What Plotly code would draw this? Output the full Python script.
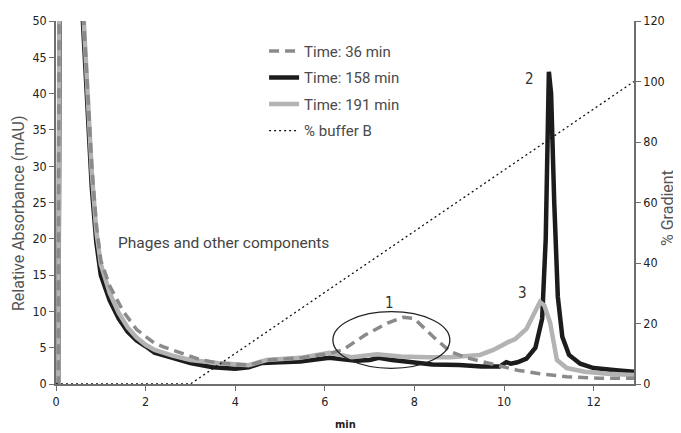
import plotly.graph_objects as go

# ---- data ----
t_black = [0, 0.05, 0.1, 0.55, 0.6, 0.7, 0.8, 0.9, 1.0, 1.2, 1.4, 1.6, 1.8, 2.0, 2.2, 2.6, 3.0, 3.5, 4.0, 4.3, 4.6, 5.0, 5.45, 6.1, 6.4, 6.7, 7.0, 7.2, 7.5, 8.0, 8.4, 9.0, 9.5, 9.9, 10.05, 10.15, 10.3, 10.5, 10.7, 10.85, 10.93, 11.0, 11.05, 11.12, 11.2, 11.3, 11.45, 11.7, 12.0, 12.5, 12.9]
y_black = [0, 0, 80, 80, 50, 39, 27, 19.5, 15, 11.5, 9.0, 7.2, 6.0, 5.2, 4.3, 3.6, 2.9, 2.3, 2.1, 2.3, 2.9, 3.0, 3.1, 3.6, 3.4, 3.2, 3.3, 3.6, 3.3, 3.0, 2.7, 2.6, 2.4, 2.4, 3.0, 2.8, 3.0, 3.5, 5.0, 9.0, 20, 43, 40, 25, 12, 6.5, 4.0, 2.8, 2.2, 1.9, 1.7]

t_gray = [0, 0.05, 0.09, 0.55, 0.62, 0.7, 0.8, 0.9, 1.0, 1.2, 1.4, 1.6, 1.8, 2.0, 2.2, 2.6, 3.0, 3.6, 4.3, 4.7, 5.45, 6.1, 6.6, 7.16, 7.7, 8.3, 8.8, 9.46, 9.76, 10.1, 10.25, 10.5, 10.65, 10.8, 10.9, 11.03, 11.18, 11.4, 11.8, 12.3, 12.9]
y_gray = [0, 0, 80, 80, 50, 40, 29, 21, 16.5, 12.5, 9.8, 7.8, 6.4, 5.4, 4.7, 3.9, 3.3, 2.9, 2.6, 3.3, 3.6, 4.3, 3.7, 4.1, 3.8, 3.7, 3.7, 4.0, 4.7, 5.8, 6.2, 7.6, 9.5, 11.3, 10.8, 8.4, 3.3, 2.2, 1.7, 1.4, 1.25]

t_dash = [0, 0.05, 0.08, 0.55, 0.62, 0.7, 0.8, 0.9, 1.0, 1.2, 1.5, 1.8, 2.2, 2.4, 2.8, 3.2, 3.6, 4.3, 4.7, 5.45, 6.1, 6.4, 6.9, 7.4, 7.75, 8.0, 8.42, 8.8, 9.17, 9.7, 10.3, 10.8, 11.4, 12.14, 12.9]
y_dash = [0, 0, 80, 80, 50, 41, 30, 22, 17, 13.5, 10, 7.5, 5.6, 5.1, 4.2, 3.4, 2.9, 2.6, 3.3, 3.6, 4.2, 4.7, 6.75, 8.4, 9.2, 9.0, 6.5, 4.45, 3.6, 2.8, 1.9, 1.4, 1.0, 0.8, 0.8]

t_buffer = [0, 3.0, 12.9]
y_buffer = [0, 0, 100]

x_ticks = [0, 2, 4, 6, 8, 10, 12]
y_ticks = [0, 5, 10, 15, 20, 25, 30, 35, 40, 45, 50]
y2_ticks = [0, 20, 40, 60, 80, 100, 120]

TXT = "Roboto, 'Open Sans', sans-serif"
TICK = "'DejaVu Sans Condensed', 'Liberation Sans Narrow', Roboto, sans-serif"

# page offset from the default body margin (8px)
OFF = 8
W, H = 681 - OFF, 433 - OFF
L, R, T, B = 56 - OFF, 47, 21 - OFF, 49

fig = go.Figure()
fig.add_trace(go.Scatter(x=t_black, y=y_black, mode="lines", name="Time: 158 min",
                         line=dict(color="#1c1c1c", width=4.5), legendrank=2))
fig.add_trace(go.Scatter(x=t_gray, y=y_gray, mode="lines", name="Time: 191 min",
                         line=dict(color="#b3b3b5", width=4.5), legendrank=3))
fig.add_trace(go.Scatter(x=t_dash, y=y_dash, mode="lines", name="Time: 36 min",
                         line=dict(color="#8a8a8a", width=3.5, dash="10px,6px"), legendrank=1))
fig.add_trace(go.Scatter(x=t_buffer, y=y_buffer, mode="lines", name="% buffer B", yaxis="y2",
                         line=dict(color="#111111", width=1.3, dash="2px,3px"), legendrank=4))
for tr in fig.data:
    tr.legendgroup = tr.name

axis_common = dict(showgrid=False, zeroline=False, showline=True, linecolor="#6e6e6e", linewidth=1.5,
                   ticks="outside", ticklen=5, tickcolor="#6e6e6e", tickwidth=1.2, automargin=False,
                   tickfont=dict(family=TICK, size=12.5, color="#222222"))

fig.update_layout(
    width=W, height=H,
    margin=dict(l=L, r=R, t=T, b=B),
    paper_bgcolor="white", plot_bgcolor="white",
    showlegend=True,
    legend=dict(x=0.36, y=0.962, xanchor="left", yanchor="top", bgcolor="rgba(0,0,0,0)",
                font=dict(family=TXT, size=15, color="#4a4a4a"), tracegroupgap=4,
                itemwidth=30),
    xaxis=dict(range=[0, 12.9], tickvals=x_ticks, **axis_common),
    yaxis=dict(range=[0, 50], tickvals=y_ticks, **axis_common),
    yaxis2=dict(range=[0, 120], tickvals=y2_ticks, overlaying="y", side="right", anchor="x", **axis_common),
)

fig.add_shape(type="circle", xref="x", yref="y", x0=6.18, x1=8.79, y0=2.16, y1=9.96,
              line=dict(color="#222222", width=1.3))

# axis titles (page pixel positions, converted below)
fig.add_annotation(x=18, y=213, xref="paper", yref="paper", text="Relative Absorbance (mAU)", showarrow=False,
                   textangle=-90, xanchor="center", yanchor="middle",
                   font=dict(family=TXT, size=16, color="#555555"))
fig.add_annotation(x=667, y=208, xref="paper", yref="paper", text="% Gradient", showarrow=False,
                   textangle=-90, xanchor="center", yanchor="middle",
                   font=dict(family=TXT, size=16, color="#555555"))
fig.add_annotation(x=345, y=425, xref="paper", yref="paper", text="<b>min</b>", showarrow=False,
                   xanchor="center", yanchor="middle",
                   font=dict(family=TICK, size=11, color="#222222"))

fig.add_annotation(x=1.35, y=19.4, xref="x", yref="y", text="Phages and other components", showarrow=False,
                   xanchor="left", font=dict(family=TXT, size=15.5, color="#444444"))
fig.add_annotation(x=7.45, y=11.2, xref="x", yref="y", text="1", showarrow=False,
                   font=dict(family=TICK, size=15, color="#333333"))
fig.add_annotation(x=10.57, y=42.0, xref="x", yref="y", text="2", showarrow=False,
                   font=dict(family=TICK, size=15, color="#333333"))
fig.add_annotation(x=10.42, y=12.6, xref="x", yref="y", text="3", showarrow=False,
                   font=dict(family=TICK, size=15, color="#333333"))

pw, ph = W - L - R, H - T - B
for ann in fig.layout.annotations:
    if ann.xref == "paper":
        px, py = ann.x - OFF, ann.y - OFF
        ann.x = (px - L) / pw
        ann.y = (H - B - py) / ph

fig.write_html("out.html")
